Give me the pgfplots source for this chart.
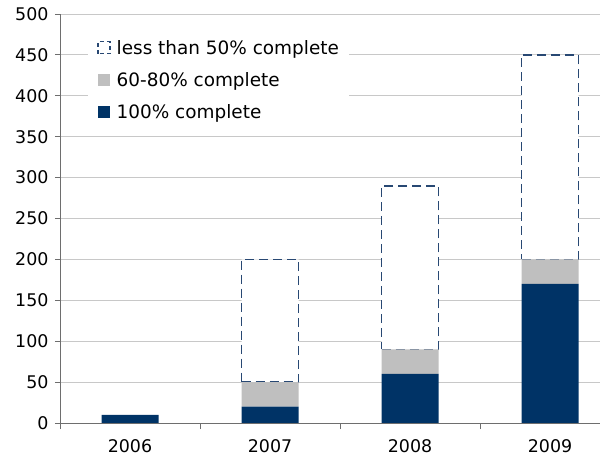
\documentclass[border=0pt]{standalone}
\usepackage{pgfplots}
\pgfplotsset{compat=1.18}
\usepackage{fontspec}
\setmainfont{DejaVu Sans}

\definecolor{navy}{RGB}{0,51,102}
\definecolor{midgray}{RGB}{191,191,191}
\definecolor{dashcol}{RGB}{40,72,115}
\definecolor{gridcol}{RGB}{200,200,200}
\definecolor{axiscol}{RGB}{110,110,110}

\begin{document}
\begin{tikzpicture}
\begin{axis}[
  at={(0,0)}, anchor=south west,
  scale only axis,
  width=540bp, height=409bp,
  xmin=-0.5, xmax=3.357,
  ymin=0, ymax=500,
  ytick={0,50,...,500},
  xtick={0,1,2,3},
  xticklabels={2006,2007,2008,2009},
  major x tick style={draw=none},
  extra x ticks={-0.5,0.5,1.5,2.5},
  extra x tick labels={},
  extra x tick style={major x tick style={draw=axiscol,line width=0.8bp}, major tick length=6bp, tick align=outside, grid=none},
  axis lines=left,
  axis line style={-, draw=axiscol, line width=0.8bp},
  ymajorgrids,
  grid style={draw=gridcol, line width=0.8bp},
  major y tick style={draw=axiscol, line width=0.8bp},
  tick align=outside,
  major tick length=5bp,
  /pgf/number format/assume math mode=true,
  ticklabel style={font=\fontsize{17.5}{20}\selectfont, text=black},
  yticklabel style={xshift=-3bp},
  xticklabel style={yshift=-8bp},
  ybar stacked,
  bar width=57bp,
  reverse legend,
  legend cell align=left,
  legend style={
    at={(rel axis cs:0.052,0.949)}, anchor=north west,
    draw=none, fill=white,
    font=\fontsize{18.5}{21}\selectfont,
    row sep=14.5bp,
    inner xsep=9bp, inner ysep=4bp,
    nodes={inner sep=1bp, text=black},
  },
]
% completed share; 2006 listed last so the three later years line up
% point by point with the stacked series above them
\addplot+[fill=navy, draw=none,
  legend image code/.code={\fill[navy] (0bp,-6bp) rectangle (12bp,6bp); \path (17bp,0bp);}]
  coordinates {(1,20) (2,60) (3,170) (0,10)};
\addlegendentry{100\% complete}
% 60-80% complete, stacked on top
\addplot+[fill=midgray, draw=none,
  legend image code/.code={\fill[midgray] (0bp,-6bp) rectangle (12bp,6bp); \path (17bp,0bp);}]
  coordinates {(1,30) (2,30) (3,30)};
\addlegendentry{60-80\% complete}
% under 50% complete, outlined only
\addplot+[fill=white, draw=dashcol, line width=1.6bp, dash pattern=on 9bp off 5bp,
  legend image code/.code={\draw[fill=white, draw=dashcol, line width=1.3bp, dash pattern=on 4bp off 3bp] (0bp,-6bp) rectangle (12bp,6bp); \path (17bp,0bp);}]
  coordinates {(1,150) (2,200) (3,250)};
\addlegendentry{less than 50\% complete}
\end{axis}
\useasboundingbox (-60bp,-39bp) rectangle (543bp,423bp);
\end{tikzpicture}
\end{document}
